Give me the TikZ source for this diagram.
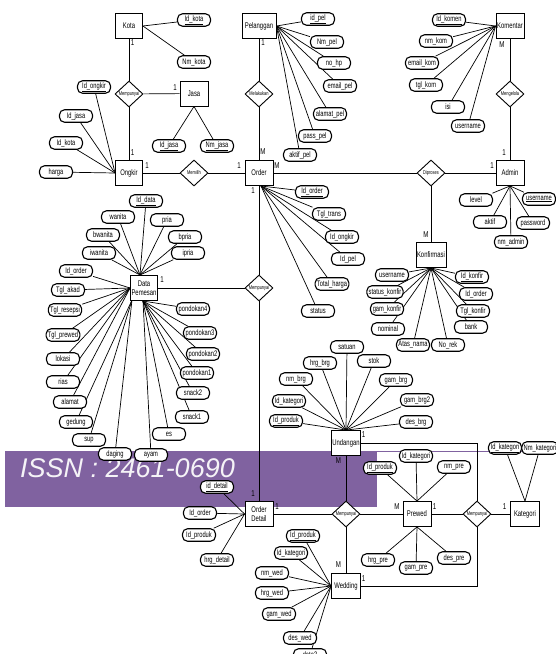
\documentclass[tikz,border=0pt]{standalone}
\usepackage{fontspec}
\setmainfont{Liberation Sans}
\newfontfamily\nf{Liberation Sans}[FakeStretch=0.72]
\usetikzlibrary{shapes.geometric}
\pgfdeclarelayer{wm}
\pgfdeclarelayer{bg}
\pgfsetlayers{wm,bg,main}
\definecolor{wmpurple}{RGB}{128,98,160}
\tikzset{
  ent/.style={draw, line width=0.9pt, minimum width=27pt, minimum height=25pt, inner sep=1pt, fill=white, align=center, font=\nf\fontsize{8.2}{8.7}\selectfont},
  rel/.style={draw, diamond, line width=0.9pt, minimum width=28pt, minimum height=26pt, inner sep=0pt, fill=white, font=\nf\fontsize{5.5}{6}\selectfont},
  attr/.style={draw, rounded corners=5pt, line width=1.1pt, minimum width=33pt, minimum height=12.5pt, inner xsep=1.8pt, inner ysep=1pt, fill=white, font=\nf\fontsize{8}{8.5}\selectfont},
  lab/.style={inner sep=0pt, font=\nf\fontsize{8.5}{8.5}\selectfont},
  conn/.style={line width=0.7pt}
}
\begin{document}
\begin{tikzpicture}[x=1pt,y=-1pt]
\useasboundingbox (0,0) rectangle (556,654);
\begin{pgfonlayer}{wm}
\fill[white] (0,0) rectangle (556,654);
\fill[wmpurple] (5,451) rectangle (377,507);
\draw[wmpurple, line width=1.2pt] (377,451.8) -- (556,451.8);
\node[anchor=base west, inner sep=0pt, text=white!92!wmpurple, font=\fontsize{27}{27}\selectfont\itshape] (wmt) at (20,477) {ISSN : 2461-0690};
\end{pgfonlayer}

% entities
\node[ent] (kota) at (129,26) {Kota};
\node[ent, minimum width=34pt] (pel) at (259,26) {Pelanggan};
\node[ent, minimum width=28pt] (kom) at (510,26) {Komentar};
\node[ent, minimum width=28pt] (jasa) at (194,93.5) {Jasa};
\node[ent] (ong) at (129,173) {Ongkir};
\node[ent, minimum width=28pt] (ord) at (259,173) {Order};
\node[ent, minimum width=28pt] (adm) at (510,173) {Admin};
\node[ent, minimum width=30pt] (konf) at (431,255) {Konfirmasi};
\node[ent] (dp) at (144,288) {Data\\Pemesan};
\node[ent, minimum width=29pt] (und) at (346,443) {Undangan};
\node[ent, minimum width=28pt] (od) at (259,514) {Order\\Detail};
\node[ent, minimum width=28pt] (pre) at (417,514) {Prewed};
\node[ent, minimum width=29pt] (kat) at (525,514) {Kategori};
\node[ent, minimum width=29pt] (wed) at (346,586) {Wedding};

% relationships
\node[rel] (mp1) at (129,94) {Mempunyai};
\node[rel] (mel) at (259,94) {Melakukan};
\node[rel] (mgl) at (510,94) {Mengelola};
\node[rel] (mem) at (194,173) {Memilih};
\node[rel] (dip) at (431,173) {Diproses};
\node[rel] (mp2) at (259,288) {Mempunyai};
\node[rel] (mp3) at (346,514) {Mempunyai};
\node[rel] (mp4) at (477,514) {Mempunyai};

% attributes: Kota, Jasa
\node[attr] (ko1) at (194,20) {\underline{Id\_kota}};
\node[attr] (ko2) at (194,62) {Nm\_kota};
\node[attr] (ja1) at (169,146) {\underline{Id\_jasa}};
\node[attr] (ja2) at (217,146) {\underline{Nm\_jasa}};
% Pelanggan
\node[attr] (pe1) at (318,19) {\underline{id\_pel}};
\node[attr] (pe2) at (327,42) {Nm\_pel};
\node[attr] (pe3) at (334,63) {no\_hp};
\node[attr] (pe4) at (340,86) {email\_pel};
\node[attr] (pe5) at (330,114) {alamat\_pel};
\node[attr] (pe6) at (315,136) {pass\_pel};
\node[attr] (pe7) at (300,155) {aktif\_pel};
% Komentar
\node[attr] (km1) at (449,20) {\underline{Id\_komen}};
\node[attr] (km2) at (436,41) {nm\_kom};
\node[attr] (km3) at (422,63) {email\_kom};
\node[attr] (km4) at (426,85) {tgl\_kom};
\node[attr] (km5) at (448,107) {isi};
\node[attr] (km6) at (468,126) {username};
% Ongkir
\node[attr] (on1) at (94,87) {\underline{Id\_ongkir}};
\node[attr] (on2) at (76,116) {Id\_jasa};
\node[attr] (on3) at (66,143) {Id\_kota};
\node[attr] (on4) at (56,172) {harga};
% Order
\node[attr] (or1) at (312,192) {\underline{Id\_order}};
\node[attr] (or2) at (329,214) {Tgl\_trans};
\node[attr] (or3) at (342,237) {Id\_ongkir};
\node[attr] (or4) at (348,259) {Id\_pel};
\node[attr] (or5) at (332,284) {Total\_harga};
\node[attr] (or6) at (318,311) {status};
% Admin
\node[attr] (ad1) at (476,200) {level};
\node[attr] (ad2) at (539,199) {\underline{username}};
\node[attr] (ad3) at (490,222) {aktif};
\node[attr] (ad4) at (533,223) {password};
\node[attr] (ad5) at (511,242) {nm\_admin};
% Konfirmasi
\node[attr] (kf1) at (392,275) {username};
\node[attr] (kf2) at (385,292) {status\_konfir};
\node[attr] (kf3) at (387,309) {gam\_konfir};
\node[attr] (kf4) at (388,329) {nominal};
\node[attr] (kf5) at (413,345) {Atas\_nama};
\node[attr] (kf6) at (448,345) {No\_rek};
\node[attr] (kf7) at (471,327) {bank};
\node[attr] (kf8) at (473,311) {Tgl\_konfir};
\node[attr] (kf9) at (476,294) {Id\_order};
\node[attr] (kf10) at (472,277) {\underline{Id\_konfir}};
% Data Pemesan
\node[attr] (dd0) at (146,201) {\underline{Id\_data}};
\node[attr] (dt1) at (118,217) {wanita};
\node[attr] (dt2) at (103,235) {bwanita};
\node[attr] (dt3) at (99,253) {iwanita};
\node[attr] (dt4) at (167,220) {pria};
\node[attr] (dt5) at (185,237) {bpria};
\node[attr] (dt6) at (188,253) {ipria};
\node[attr] (dl1) at (76,271) {Id\_order};
\node[attr] (dl2) at (68,290) {Tgl\_akad};
\node[attr] (dl3) at (65,310) {Tgl\_resepsi};
\node[attr] (dl4) at (63,335) {Tgl\_prewed};
\node[attr] (dl5) at (63,359) {lokasi};
\node[attr] (dl6) at (63,382) {rias};
\node[attr] (dl7) at (70,402) {alamat};
\node[attr] (dm1) at (76,422) {gedung};
\node[attr] (dm2) at (89,440) {sup};
\node[attr] (dm3) at (115,454) {daging};
\node[attr] (db1) at (151,455) {ayam};
\node[attr] (db2) at (169,434) {es};
\node[attr] (db3) at (192,417) {snack1};
\node[attr] (db4) at (193,393) {snack2};
\node[attr] (db5) at (197,373) {pondokan1};
\node[attr] (db6) at (203,354) {pondokan2};
\node[attr] (db7) at (200,333) {pondokan3};
\node[attr] (db8) at (193,309) {pondokan4};
% Order Detail
\node[attr] (od1) at (217,487) {\underline{id\_detail}};
\node[attr] (od2) at (200,513) {Id\_order};
\node[attr] (od3) at (199,535) {Id\_produk};
\node[attr] (od4) at (217,560) {hrg\_detail};
% Undangan
\node[attr] (un1) at (347,347) {satuan};
\node[attr] (un2) at (320,363) {hrg\_brg};
\node[attr] (un3) at (374,361) {stok};
\node[attr] (un4) at (296,379) {nm\_brg};
\node[attr] (un5) at (396,380) {gam\_brg};
\node[attr] (un6) at (289,401) {Id\_kategori};
\node[attr] (un7) at (417,400) {gam\_brg2};
\node[attr] (un8) at (286,421) {\underline{Id\_produk}};
\node[attr] (un9) at (416,422) {des\_brg};
% Prewed
\node[attr] (pr1) at (416,456) {Id\_kategori};
\node[attr] (pr2) at (380,468) {\underline{Id\_produk}};
\node[attr] (pr3) at (454,467) {nm\_pre};
\node[attr] (pr4) at (378,560) {hrg\_pre};
\node[attr] (pr5) at (416,568) {gam\_pre};
\node[attr] (pr6) at (454,558) {des\_pre};
% Kategori
\node[attr] (ka1) at (505,448) {\underline{Id\_kategori}};
\node[attr] (ka2) at (540,448) {Nm\_kategori};
% Wedding
\node[attr] (we1) at (303,536) {\underline{Id\_produk}};
\node[attr] (we2) at (291,553) {Id\_kategori};
\node[attr] (we3) at (272,573) {nm\_wed};
\node[attr] (we4) at (272,593) {hrg\_wed};
\node[attr] (we5) at (279,614) {gam\_wed};
\node[attr] (we6) at (300,638) {des\_wed};
\node[attr] (we7) at (310,655) {data3};

% convergence points
\coordinate (ordc) at (261,186);
\coordinate (dpt) at (140,275);
\coordinate (dpbl) at (132,300);
\coordinate (dpb) at (143,301);

% cardinality labels
\node[lab] (c1) at (132.5,43) {1};
\node[lab] (c2) at (132.5,153) {1};
\node[lab] (c3) at (175,88) {1};
\node[lab] (c4) at (147,166) {1};
\node[lab] (c5) at (239,166) {1};
\node[lab] (c6) at (263,43) {1};
\node[lab] (c7) at (263,152) {M};
\node[lab] (c8) at (277,166) {M};
\node[lab] (c9) at (253,191) {1};
\node[lab] (c10) at (492,166) {1};
\node[lab] (c11) at (504,153) {1};
\node[lab] (c12) at (502,45) {M};
\node[lab] (c13) at (426,235) {M};
\node[lab] (c14) at (162,280) {1};
\node[lab] (c15) at (253,494) {1};
\node[lab] (c16) at (277,507) {1};
\node[lab] (c17) at (363.5,435) {1};
\node[lab] (c18) at (338.5,461) {M};
\node[lab] (c19) at (397,507) {M};
\node[lab] (c20) at (338.5,565) {M};
\node[lab] (c21) at (363.5,579) {1};
\node[lab] (c22) at (434.5,507) {1};
\node[lab] (c23) at (504.5,507) {1};

\begin{pgfonlayer}{bg}
% relationship connectors
\draw[conn] (kota) -- (mp1) -- (ong);
\draw[conn] (mp1) -- (jasa);
\draw[conn] (pel) -- (mel) -- (ord);
\draw[conn] (kom) -- (mgl) -- (adm);
\draw[conn] (ong) -- (mem) -- (ord);
\draw[conn] (ord) -- (dip) -- (adm);
\draw[conn] (dip) -- (konf);
\draw[conn] (ord) -- (mp2) -- (od);
\draw[conn] (dp) -- (mp2);
\draw[conn] (und) -- (mp3) -- (wed);
\draw[conn] (od) -- (mp3) -- (pre);
\draw[conn] (pre) -- (mp4) -- (kat);
\draw[conn] (und.east) -- (und.east -| mp4) -- (mp4.north);
\draw[conn] (mp4.south) -- (wed.east -| mp4) -- (wed.east);
% attribute connectors
\foreach \a in {ko1,ko2} \draw[conn] (\a) -- (kota.east);
\foreach \a in {ja1,ja2} \draw[conn] (\a) -- (jasa.south);
\foreach \a in {pe1,pe2,pe3,pe4,pe5,pe6,pe7} \draw[conn] (\a) -- (pel.east);
\foreach \a in {km1,km2,km3,km4,km5,km6} \draw[conn] (\a) -- (kom.west);
\foreach \a in {on1,on2,on3,on4} \draw[conn] (\a) -- (ong.west);
\foreach \a in {or1,or2,or3,or4,or5,or6} \draw[conn] (\a) -- (ordc);
\foreach \a in {ad1,ad2,ad3,ad4,ad5} \draw[conn] (\a) -- (adm.south);
\foreach \a in {kf1,kf2,kf3,kf4,kf5,kf6,kf7,kf8,kf9,kf10} \draw[conn] (\a) -- (konf.south);
\draw[conn] (dd0) -- (dpt);
\foreach \a in {dt1,dt2,dt3,dt4,dt5,dt6} \draw[conn] (\a) -- (dpt);
\foreach \a in {dl1,dl2,dl3,dl4,dl5,dl6,dl7} \draw[conn] (\a) -- (dp.west);
\foreach \a in {dm1,dm2,dm3} \draw[conn] (\a) -- (dpbl);
\foreach \a in {db1,db2,db3,db4,db5,db6,db7,db8} \draw[conn] (\a) -- (dpb);
\foreach \a in {od1,od2,od3,od4} \draw[conn] (\a) -- (od.west);
\foreach \a in {un1,un2,un3,un4,un5,un6,un7,un8,un9} \draw[conn] (\a) -- (und.north);
\foreach \a in {pr1,pr2,pr3} \draw[conn] (\a) -- (pre.north);
\foreach \a in {pr4,pr5,pr6} \draw[conn] (\a) -- (pre.south);
\foreach \a in {ka1,ka2} \draw[conn] (\a) -- (kat.north);
\foreach \a in {we1,we2,we3,we4,we5,we6,we7} \draw[conn] (\a) -- (wed.west);
\end{pgfonlayer}
\end{tikzpicture}
\end{document}
